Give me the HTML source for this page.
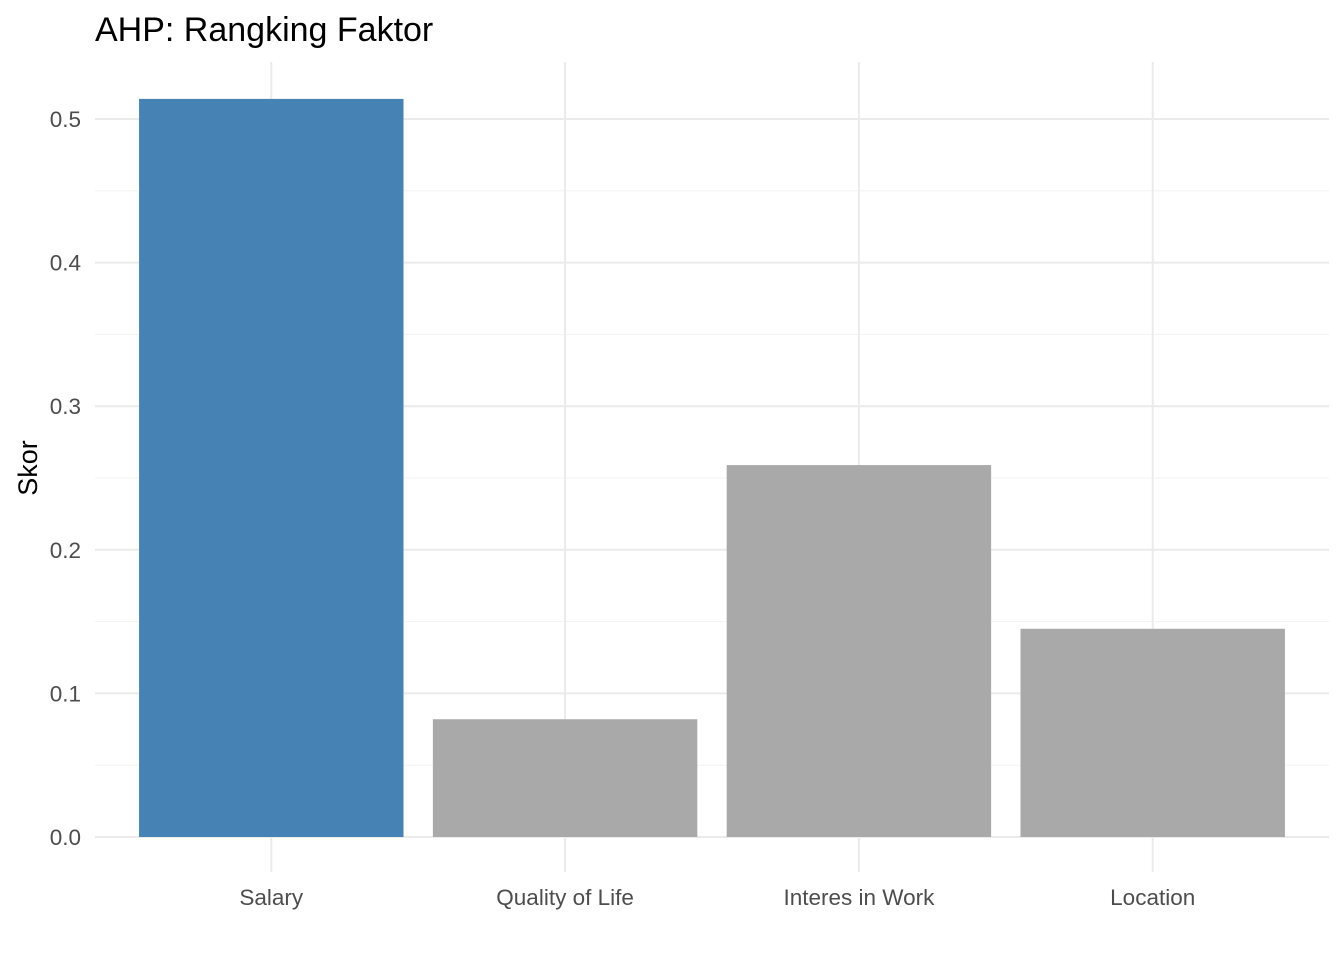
<!DOCTYPE html>
<html><head><meta charset="utf-8"><style>
body{margin:0;background:#fff;font-family:"Liberation Sans",Arial,sans-serif}
</style></head><body>
<svg id="chart" width="1344" height="960" xmlns="http://www.w3.org/2000/svg">
<text x="95" y="41" font-size="34" fill="#000">AHP: Rangking Faktor</text>
<text transform="translate(37,468) rotate(-90)" text-anchor="middle" font-size="27" fill="#000">Skor</text>
<g id="grid"></g><g id="bars"></g><g id="labels"></g>
</svg>
<script>
const categories=["Salary","Quality of Life","Interes in Work","Location"];
const values=[0.514,0.082,0.259,0.145];
const highlight=[true,false,false,false];
const yTicks=[0,0.1,0.2,0.3,0.4,0.5];
const yTickLabels=["0.0","0.1","0.2","0.3","0.4","0.5"];
const NS="http://www.w3.org/2000/svg";
const x0=95,x1=1329,yBase=837,pxPer=1436;
const step=(x1-x0)/(categories.length+0.2);
const xc=i=>x0+step*(0.6+i);
const y=v=>yBase-v*pxPer;
function mk(t,a,p){const e=document.createElementNS(NS,t);for(const k in a)e.setAttribute(k,a[k]);p.appendChild(e);return e;}
const g=document.getElementById('grid'),b=document.getElementById('bars'),l=document.getElementById('labels');
for(let i=0;i<yTicks.length;i++){
 const v=yTicks[i];
 const ln=mk('line',{x1:x0,x2:x1,y1:y(v),y2:y(v),stroke:'#ebebeb','stroke-width':2},g);
 
 
 if(i<yTicks.length-1){const m=mk('line',{x1:x0,x2:x1,y1:y(v+0.05),y2:y(v+0.05),stroke:'#f3f3f3','stroke-width':1},g);
 
 }
 const t=mk('text',{x:81,y:y(v)+8,'text-anchor':'end','font-size':22.5,fill:'#4d4d4d'},l);
 t.textContent=yTickLabels[i];
 
 
}
categories.forEach((c,i)=>{
 const ln=mk('line',{x1:xc(i),x2:xc(i),y1:62,y2:872,stroke:'#ebebeb','stroke-width':2},g);
 
 
 const w=step*0.9;
 const r=mk('rect',{x:xc(i)-w/2,y:y(values[i]),width:w,height:yBase-y(values[i]),fill:highlight[i]?'#4682b4':'#a9a9a9'},b);
 
 
 const t=mk('text',{x:xc(i),y:905,'text-anchor':'middle','font-size':22.5,fill:'#4d4d4d'},l);
 t.textContent=c;
 
 
});
</script>
</body></html>
